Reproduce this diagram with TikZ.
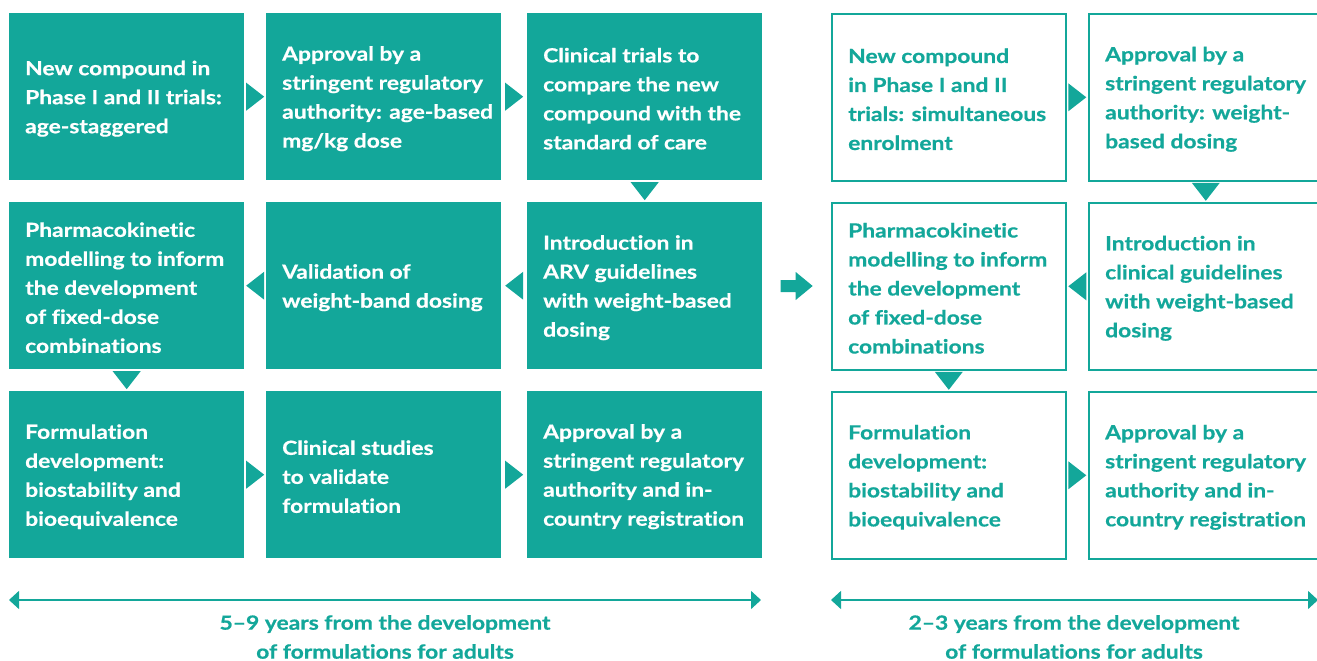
\documentclass[tikz,border=0pt]{standalone}
\usepackage{fontspec}
\setmainfont{Lato}[UprightFont=* Bold,FakeStretch=1.17,FakeBold=0.6,Ligatures={NoCommon}]
\usetikzlibrary{calc,arrows.meta}
\definecolor{teal}{RGB}{19,167,154}
\tikzset{
  fbox/.style={draw=none,fill=teal,minimum width=235pt,minimum height=167pt,inner sep=0pt,anchor=north west},
  obox/.style={draw=teal,line width=1.6pt,fill=white,minimum width=234pt,minimum height=167pt,inner sep=0pt,anchor=north west},
  ftxt/.style={anchor=west,align=left,inner sep=0pt,text=white,font=\fontsize{19.5}{29}\selectfont},
  otxt/.style={anchor=west,align=left,inner sep=0pt,text=teal,font=\fontsize{19.5}{29}\selectfont},
  tri/.style={fill=teal,draw=none},
  tline/.style={draw=teal,line width=1.4pt,{Triangle[length=10pt,width=18pt]}-{Triangle[length=10pt,width=18pt]}},
  ltxt/.style={align=center,inner sep=0pt,text=teal,font=\fontsize{19.5}{29}\selectfont},
}
\newcommand{\rtri}[2]{\fill[tri] ($(#1.east)!0.5!(#2.west)+(-9,-14)$) -- ++(18,14) -- ++(-18,14) -- cycle;}
\newcommand{\ltri}[2]{\fill[tri] ($(#1.west)!0.5!(#2.east)+(9,-14)$) -- ++(-18,14) -- ++(18,14) -- cycle;}
\newcommand{\dtri}[2]{\fill[tri] ($(#1.south)!0.5!(#2.north)+(-14,-9)$) -- ++(28,0) -- ++(-14,18) -- cycle;}
\begin{document}
\begin{tikzpicture}[x=1pt,y=-1pt]
\useasboundingbox (0,0) rectangle (1317,661);
% left group boxes
\node[fbox] (b11) at (9,13) {};
\node[fbox] (b12) at (266,13) {};
\node[fbox] (b13) at (527,13) {};
\node[fbox] (b21) at (9,202) {};
\node[fbox] (b22) at (266,202) {};
\node[fbox] (b23) at (527,202) {};
\node[fbox] (b31) at (9,391) {};
\node[fbox] (b32) at (266,391) {};
\node[fbox] (b33) at (527,391) {};
\node[ftxt] (t11) at ($(b11.west)+(16,2)$) {New compound in\\Phase I and II trials:\\age-staggered};
\node[ftxt] (t12) at ($(b12.west)+(16,2)$) {Approval by a\\stringent regulatory\\authority: age-based\\mg/kg dose};
\node[ftxt] (t13) at ($(b13.west)+(16,2)$) {Clinical trials to\\compare the new\\compound with the\\standard of care};
\node[ftxt] (t21) at ($(b21.west)+(16,2)$) {Pharmacokinetic\\modelling to inform\\the development\\of fixed-dose\\combinations};
\node[ftxt] (t22) at ($(b22.west)+(16,2)$) {Validation of\\weight-band dosing};
\node[ftxt] (t23) at ($(b23.west)+(16,2)$) {Introduction in\\ARV guidelines\\with weight-based\\dosing};
\node[ftxt] (t31) at ($(b31.west)+(16,2)$) {Formulation\\development:\\biostability and\\bioequivalence};
\node[ftxt] (t32) at ($(b32.west)+(16,2)$) {Clinical studies\\to validate\\formulation};
\node[ftxt] (t33) at ($(b33.west)+(16,2)$) {Approval by a\\stringent regulatory\\authority and in-\\country registration};
% right group boxes
\node[obox] (c11) at (831,13) {};
\node[obox] (c12) at (1088,13) {};
\node[obox] (c21) at (831,202) {};
\node[obox] (c22) at (1088,202) {};
\node[obox] (c31) at (831,391) {};
\node[obox] (c32) at (1088,391) {};
\node[otxt] (u11) at ($(c11.west)+(17,2)$) {New compound\\in Phase I and II\\trials: simultaneous\\enrolment};
\node[otxt] (u12) at ($(c12.west)+(17,2)$) {Approval by a\\stringent regulatory\\authority: weight-\\based dosing};
\node[otxt] (u21) at ($(c21.west)+(17,2)$) {Pharmacokinetic\\modelling to inform\\the development\\of fixed-dose\\combinations};
\node[otxt] (u22) at ($(c22.west)+(17,2)$) {Introduction in\\clinical guidelines\\with weight-based\\dosing};
\node[otxt] (u31) at ($(c31.west)+(17,2)$) {Formulation\\development:\\biostability and\\bioequivalence};
\node[otxt] (u32) at ($(c32.west)+(17,2)$) {Approval by a\\stringent regulatory\\authority and in-\\country registration};
% connectors left group
\rtri{b11}{b12}
\rtri{b12}{b13}
\dtri{b13}{b23}
\ltri{b23}{b22}
\ltri{b22}{b21}
\dtri{b21}{b31}
\rtri{b31}{b32}
\rtri{b32}{b33}
% connectors right group
\rtri{c11}{c12}
\dtri{c12}{c22}
\ltri{c22}{c21}
\dtri{c21}{c31}
\rtri{c31}{c32}
% block arrow between groups
\coordinate (mid) at ($(b23.east)!0.5!(c21.west)$);
\fill[tri] ($(mid)+(-16,-6)$) -- ++(15,0) -- ++(0,-8) -- ++(17,14) -- ++(-17,14) -- ++(0,-8) -- ++(-15,0) -- cycle;
% timelines
\coordinate (l1) at (9,600);
\coordinate (r1) at (761,600);
\coordinate (l2) at (831,600);
\coordinate (r2) at (1318,600);
\draw[tline] (l1) -- (r1);
\draw[tline] (l2) -- (r2);
\node[ltxt] (lab1) at (385,637) {5–9 years from the development\\of formulations for adults};
\node[ltxt] (lab2) at (1074,637) {2–3 years from the development\\of formulations for adults};
\end{tikzpicture}
\end{document}
